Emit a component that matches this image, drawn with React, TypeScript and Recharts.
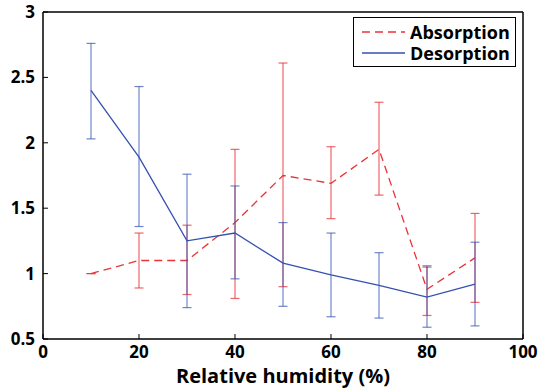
import React from "react";
import { LineChart, Line, XAxis, YAxis, ErrorBar } from "recharts";

const humidity = [10, 20, 30, 40, 50, 60, 70, 80, 90];

const absorption = [1.0, 1.1, 1.1, 1.39, 1.75, 1.69, 1.95, 0.88, 1.12];
const absLow = [1.0, 0.89, 0.84, 0.81, 0.9, 1.42, 1.6, 0.68, 0.78];
const absHigh = [1.0, 1.31, 1.37, 1.95, 2.61, 1.97, 2.31, 1.06, 1.46];

const desorption = [2.4, 1.89, 1.25, 1.31, 1.08, 0.99, 0.91, 0.82, 0.92];
const desLow = [2.03, 1.36, 0.74, 0.96, 0.75, 0.67, 0.66, 0.59, 0.6];
const desHigh = [2.76, 2.43, 1.76, 1.67, 1.39, 1.31, 1.16, 1.05, 1.24];

const xTicks = [0, 20, 40, 60, 80, 100];
const yTicks = [0.5, 1, 1.5, 2, 2.5, 3];

const RED = "#e8333a";
const BLUE = "#3551b0";
const FONT = "'Open Sans', sans-serif";

const absData = humidity.map((x, i) => ({
  x,
  y: absorption[i],
  err: [absorption[i] - absLow[i], absHigh[i] - absorption[i]],
}));

const desData = humidity.map((x, i) => ({
  x,
  y: desorption[i],
  err: [desorption[i] - desLow[i], desHigh[i] - desorption[i]],
}));

const tickStyle = { fill: "#000", fontSize: 17, fontWeight: 700, fontFamily: FONT };
const axisLine = { stroke: "#000", strokeWidth: 1.5 };
const tickLine = { stroke: "#000", strokeWidth: 1 };

const LegendBox: React.FC = () => (
  <div
    style={{
      position: "absolute",
      left: 353,
      top: 17,
      width: 163,
      height: 50,
      border: "1.5px solid #000",
      background: "#fff",
      fontFamily: FONT,
      fontWeight: 700,
      fontSize: 18,
      lineHeight: "18px",
      color: "#000",
      boxSizing: "border-box",
    }}
  >
    {[
      { name: "Absorption", color: RED, dash: "8 5" },
      { name: "Desorption", color: BLUE, dash: undefined },
    ].map((item, i) => (
      <div
        key={item.name}
        style={{
          position: "absolute",
          left: 7,
          top: 5 + i * 21,
          height: 18,
          display: "flex",
          alignItems: "center",
        }}
      >
        <svg width={45} height={10} style={{ marginRight: 4 }}>
          <line
            x1={1}
            y1={5}
            x2={44}
            y2={5}
            stroke={item.color}
            strokeWidth={1.3}
            strokeDasharray={item.dash}
          />
        </svg>
        <span style={{ lineHeight: "18px" }}>{item.name}</span>
      </div>
    ))}
  </div>
);

export default function App() {
  return (
    <div style={{ position: "absolute", left: 0, top: 0, width: 539, height: 390, background: "#fff" }}>
      <LineChart
        width={539}
        height={390}
        margin={{ top: 11, right: 15, bottom: 0, left: 0 }}
        style={{ fontFamily: FONT }}
      >
        <XAxis
          dataKey="x"
          type="number"
          domain={[0, 100]}
          ticks={xTicks}
          height={51}
          tick={tickStyle}
          tickSize={-5}
          tickMargin={12}
          axisLine={axisLine}
          tickLine={tickLine}
          label={{
            value: "Relative humidity (%)",
            position: "insideBottom",
            offset: 7,
            style: { fill: "#000", fontSize: 20, fontWeight: 700, fontFamily: FONT },
          }}
        />
        <XAxis
          xAxisId="top"
          orientation="top"
          type="number"
          domain={[0, 100]}
          ticks={xTicks}
          height={1}
          tick={false}
          tickSize={-5}
          axisLine={axisLine}
          tickLine={tickLine}
        />
        <YAxis
          type="number"
          domain={[0.5, 3]}
          ticks={yTicks}
          width={43}
          tick={tickStyle}
          tickSize={-5}
          tickMargin={13}
          axisLine={axisLine}
          tickLine={tickLine}
        />
        <YAxis
          yAxisId="right"
          orientation="right"
          type="number"
          domain={[0.5, 3]}
          ticks={yTicks}
          width={1}
          tick={false}
          tickSize={-5}
          axisLine={axisLine}
          tickLine={tickLine}
        />
        <Line
          data={absData}
          dataKey="y"
          name="Absorption"
          stroke={RED}
          strokeWidth={1.3}
          strokeDasharray="8 5"
          dot={false}
          isAnimationActive={false}
        >
          <ErrorBar dataKey="err" direction="y" width={4.5} stroke={RED} strokeOpacity={0.75} strokeWidth={1.2} />
        </Line>
        <Line
          data={desData}
          dataKey="y"
          name="Desorption"
          stroke={BLUE}
          strokeWidth={1.3}
          dot={false}
          isAnimationActive={false}
        >
          <ErrorBar dataKey="err" direction="y" width={4.5} stroke={BLUE} strokeOpacity={0.7} strokeWidth={1.2} />
        </Line>
      </LineChart>
      <LegendBox />
    </div>
  );
}
